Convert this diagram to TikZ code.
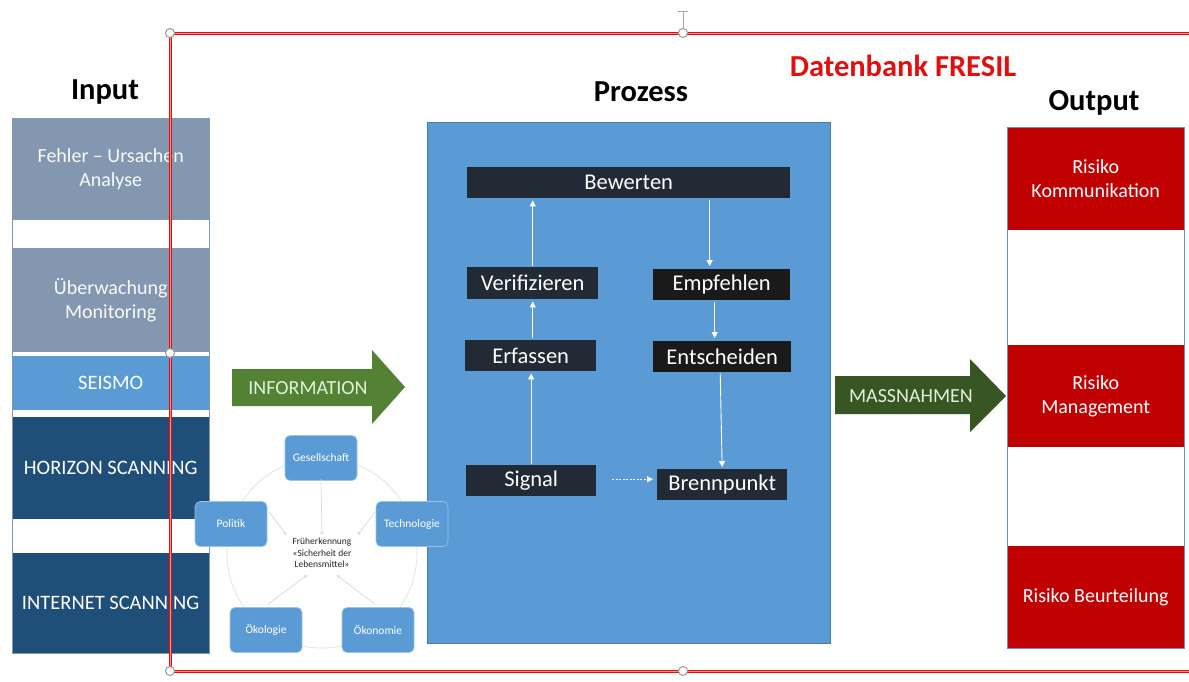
\documentclass[tikz,border=0pt]{standalone}
\usepackage{fontspec}
\setmainfont{Carlito}
\usetikzlibrary{calc,arrows.meta}
\definecolor{grayblue}{HTML}{8497B0}
\definecolor{midblue}{HTML}{5B9BD5}
\definecolor{navy}{HTML}{1F4E79}
\definecolor{darkbox}{HTML}{222A35}
\definecolor{blackbox}{HTML}{1A1A1A}
\definecolor{riskred}{HTML}{C00000}
\definecolor{greenA}{HTML}{548235}
\definecolor{greenB}{HTML}{375623}
\definecolor{framered}{HTML}{E01010}
\definecolor{lightgreen}{HTML}{E2F0D9}
\tikzset{
  blk/.style={rectangle, inner sep=0pt, anchor=north west, align=center, text=white},
  inbox/.style={blk, fill=grayblue, font=\fontsize{20}{24}\selectfont, text=white!95!gray},
  capbox/.style={blk, font=\fontsize{20.5}{24}\selectfont},
  procbox/.style={blk, fill=darkbox, font=\fontsize{22.5}{26}\selectfont},
  outbox/.style={blk, fill=riskred, font=\fontsize{20}{24}\selectfont},
  pentbox/.style={rectangle, rounded corners=5pt, fill=midblue, draw=midblue!60!white, line width=0.6pt,
     minimum width=72pt, minimum height=45pt, inner sep=0pt, text=white, font=\fontsize{11.5}{13}\selectfont},
  flowarr/.style={white, line width=0.9pt, -{Triangle[width=6pt,length=6pt]}},
  smallarr/.style={gray!30, line width=0.7pt, -{Triangle[width=3pt,length=3pt]}},
  handle/.style={circle, draw=gray!80, fill=white, line width=1pt, minimum size=9pt, inner sep=0pt},
  title/.style={font=\bfseries\fontsize{30.5}{34}\selectfont},
  redframe/.style={draw=framered, line width=3pt},
}
\begin{document}
\begin{tikzpicture}[x=1pt,y=-1pt]
\useasboundingbox (0,0) rectangle (1189,681);
\fill[white] (0,0) rectangle (1189,681);
% Input column
\node[inbox, minimum width=197pt, minimum height=102pt] (fehler) at (12,118) {Fehler -- Ursachen\\Analyse};
\node[inbox, minimum width=197pt, minimum height=104pt] (ueber) at (12,248) {Überwachung\\Monitoring};
\node[capbox, fill=midblue, minimum width=197pt, minimum height=54pt] (seismo) at (12,356) {SEISMO};
\node[capbox, fill=navy, minimum width=197pt, minimum height=102pt] (horizon) at (12,417) {HORIZON SCANNING};
\node[capbox, fill=navy, minimum width=197pt, minimum height=100pt] (internet) at (12,553) {INTERNET SCANNING};
\draw[grayblue, line width=0.8pt] (fehler.north west) rectangle (internet.south east);
% Process
\node[blk, fill=midblue, draw=midblue!80!black, line width=0.6pt, minimum width=403pt, minimum height=521pt] (proc) at (427,122) {};
\node[procbox, minimum width=323pt, minimum height=31pt] (bew) at (467,167) {Bewerten};
\node[procbox, minimum width=131pt, minimum height=32pt] (ver) at (467,267) {Verifizieren};
\node[procbox, fill=blackbox, minimum width=137pt, minimum height=31pt] (emp) at (653,269) {Empfehlen};
\node[procbox, minimum width=131pt, minimum height=31pt] (erf) at (465,340) {Erfassen};
\node[procbox, fill=blackbox, minimum width=138pt, minimum height=31pt] (ent) at (653,341) {Entscheiden};
\node[procbox, minimum width=130pt, minimum height=31pt] (sig) at (466,465) {Signal};
\node[procbox, minimum width=130pt, minimum height=31pt] (bre) at (657,469) {Brennpunkt};
\draw[flowarr, shorten <=1pt, shorten >=2pt] (ver.north) -- (ver.north |- bew.south);
\draw[flowarr, shorten <=2pt, shorten >=2pt] (erf.north -| ver.south) -- (ver.south);
\draw[flowarr, shorten <=1pt, shorten >=2pt] (sig.north) -- (sig.north |- erf.south);
\draw[flowarr, shorten <=2pt, shorten >=3pt] ([xshift=-12pt]emp.north |- bew.south) -- ([xshift=-12pt]emp.north);
\draw[flowarr, shorten <=2pt, shorten >=3pt] ([xshift=-7pt]emp.south) -- ([xshift=-7pt]emp.south |- ent.north);
\draw[flowarr, shorten <=1pt, shorten >=2pt] ([xshift=-2pt]ent.south) -- (bre.north);
\draw[flowarr, dashed, dash pattern=on 2pt off 1.5pt, line width=0.7pt] ($(sig.east)+(16,-1.5)$) -- ($(sig.east -| bre.west)+(-4,-1.5)$);
% Output
\node[outbox, minimum width=177pt, minimum height=103pt] (rk) at (1007,127) {Risiko\\Kommunikation};
\node[outbox, minimum width=177pt, minimum height=102pt] (rm) at (1007,345) {Risiko\\Management};
\node[outbox, minimum width=177pt, minimum height=102pt] (rb) at (1007,546) {Risiko Beurteilung};
\draw[midblue!70!gray, line width=0.7pt] (rk.north west) rectangle (rb.south east);
% Green arrows
\fill[greenA] (232,369) -- (372,369) -- (372,350) -- (405,387) -- (372,424) -- (372,406) -- (232,406) -- cycle;
\node[text=lightgreen, font=\fontsize{20}{24}\selectfont] (info) at (308,388) {INFORMATION};
\fill[greenB] (835,376) -- (970,376) -- (970,359) -- (1006,396) -- (970,432) -- (970,414) -- (835,414) -- cycle;
\node[text=lightgreen, font=\fontsize{20}{24}\selectfont] (mass) at (911,396) {MASSNAHMEN};
% Pentagon
\draw[gray!20, line width=0.8pt] (322,553) circle[radius=95pt];
\node[align=center, text=black!85, font=\fontsize{9.5}{11.5}\selectfont, inner sep=1pt] (cen) at (322,553) {Früherkennung\\«Sicherheit der\\Lebensmittel»};
\node[pentbox] (ges) at (321,458) {Gesellschaft};
\node[pentbox] (pol) at (231,524) {Politik};
\node[pentbox] (tec) at (412,524) {Technologie};
\node[pentbox] (oekol) at (266,630) {Ökologie};
\node[pentbox] (oekon) at (378,630) {Ökonomie};
\draw[smallarr] ([yshift=2pt]ges.south) -- ($(cen.north)+(0,-2)$);
\draw[smallarr] ([shift={(2,11)}]pol.north east) -- ($(cen.north west)+(-5,-2)$);
\draw[smallarr] ([shift={(-1,11)}]tec.north west) -- ($(cen.north east)+(5,-2)$);
\draw[smallarr] ([shift={(2,-3)}]oekol.north) -- ($(cen.south west)+(16,6)$);
\draw[smallarr] ([shift={(-3,-3)}]oekon.north) -- ($(cen.south east)+(-16,6)$);
% Red frame
\coordinate (ftr) at (1200,33);
\coordinate (fbr) at (1200,671);
\coordinate (ftl) at (170,33);
\coordinate (fbl) at (170,671);
\draw[redframe] (ftr) -- (ftl) -- (fbl) -- (fbr);
\draw[red!45, line width=0.4pt] (ftr) -- (ftl) -- (fbl) -- (fbr);
% Selection handles
\coordinate (rtop) at (683,11);
\draw[gray!70, line width=1pt] (683,29) -- (rtop);
\draw[gray!70, line width=1pt] ([xshift=-5pt]rtop) -- ([xshift=5pt]rtop);
\node[handle] (h1) at (ftl) {};
\node[handle] (h2) at (683,33) {};
\node[handle] (h3) at (170,353) {};
\node[handle] (h4) at (fbl) {};
\node[handle] (h5) at (683,671) {};
% Titles
\node[title] (tin) at (105,92) {Input};
\node[title] (tproc) at (641,92) {Prozess};
\node[title] (tout) at (1094,103) {Output};
\node[title, text=framered] (tdb) at (903,66) {Datenbank FRESIL};
\end{tikzpicture}
\end{document}
